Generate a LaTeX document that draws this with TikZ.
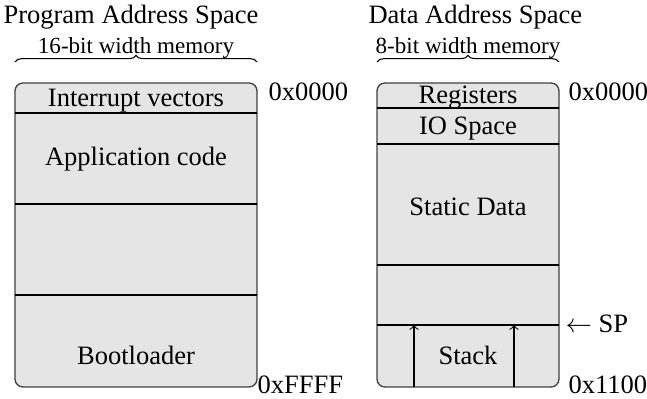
\documentclass[tikz,border=0pt]{standalone}
\usepackage{fontspec}
\setmainfont{Liberation Serif}
\usetikzlibrary{arrows,decorations.pathreplacing}

\begin{document}
\begin{tikzpicture}[x=0.377pt,y=0.377pt,
    membox/.style={draw=black!75, fill=black!10, line width=0.5pt, rounded corners=3pt},
    divider/.style={line width=0.5pt},
    addr/.style={anchor=west, inner sep=0pt},
    title/.style={anchor=west, inner sep=0pt},
    widthlabel/.style={font=\fontsize{8.7}{10}\selectfont, inner sep=0pt},
    membrace/.style={decorate, decoration={brace, amplitude=2.5pt}, line width=0.4pt}]

        \useasboundingbox (0,0) rectangle (647,399);

        % program address space
        \node[title] (PTitle) at (3,382) {Program Address Space};
        \node[widthlabel] (PWidth) at (136,351) {16-bit width memory};
        \draw[membrace] (15,337) -- (257,337);
        \draw[membox] (15,12) rectangle (257,316);
        \draw[divider] (15,286) -- (257,286);
        \draw[divider] (15,195) -- (257,195);
        \draw[divider] (15,104) -- (257,104);
        \node (IntVec) at (136,298) {Interrupt vectors};
        \node (AppCode) at (136,240) {Application code};
        \node (Boot) at (136,44) {Bootloader};
        \node[addr] (PStart) at (268,307) {0x0000};
        \node[addr] (PEnd) at (257,14) {0xFFFF};

        % data address space
        \node[title] (DTitle) at (368,382) {Data Address Space};
        \node[widthlabel] (DWidth) at (468,351) {8-bit width memory};
        \draw[membrace] (377,337) -- (559,337);
        \draw[membox] (377,12) rectangle (559,316);
        \draw[divider] (377,291) -- (559,291);
        \draw[divider] (377,255) -- (559,255);
        \draw[divider] (377,134) -- (559,134);
        \draw[divider] (377,74) -- (559,74);
        \node (Regs) at (468,301) {Registers};
        \node (IOSpace) at (468,270) {IO Space};
        \node (Static) at (468,192) {Static Data};
        \node (Stack) at (468,44) {Stack};
        \node[addr] (DStart) at (568,307) {0x0000};
        \node[addr] (DEnd) at (568,14) {0x1100};
        \node[addr] (SP) at (565,75) {$\leftarrow$ SP};

        % stack growth
        \coordinate (S1b) at (414,12);
        \coordinate (S1t) at (414,74);
        \coordinate (S2b) at (514,12);
        \coordinate (S2t) at (514,74);
        \draw[->] (S1b) -- (S1t);
        \draw[->] (S2b) -- (S2t);
\end{tikzpicture}
\end{document}
